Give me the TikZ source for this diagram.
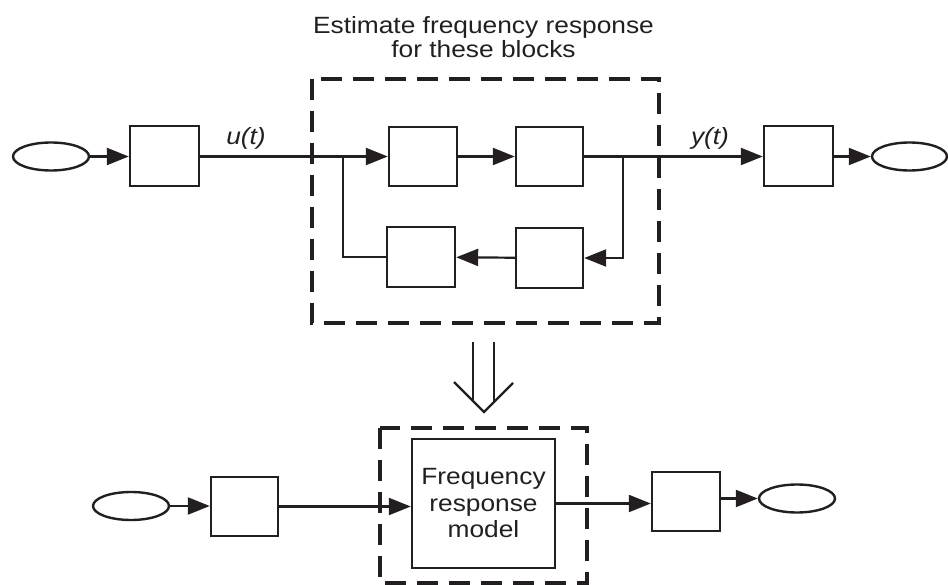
\documentclass[tikz,border=0pt]{standalone}
\usepackage{fontspec}
\setmainfont{Liberation Sans}
\newfontfamily\lab[FakeStretch=1.12]{Liberation Sans}
\usetikzlibrary{arrows.meta,shapes.geometric}
\definecolor{ink}{RGB}{35,31,32}
\tikzset{
  blk/.style={draw=ink, line width=2.4pt, minimum width=68pt, minimum height=59pt, inner sep=0pt},
  src/.style={draw=ink, ellipse, line width=2.4pt, minimum width=76pt, minimum height=28pt, inner sep=0pt},
  conn/.style={ink, line width=2.2pt},
  arr/.style={conn, -{Triangle[length=22pt,width=17pt]}},
  dbox/.style={ink, line width=3.4pt, dash pattern=on 21pt off 11pt},
  lbl/.style={text=ink, font=\lab\fontsize{23.5}{23.5}\selectfont, inner sep=0pt},
}
\begin{document}
\begin{tikzpicture}[x=1pt,y=-1pt]
\useasboundingbox (0,0) rectangle (948,585);
% title
\node[lbl, align=center] (title) at (483.5,37) {Estimate frequency response\\for these blocks};
% top row
\node[src] (e1) at (51,156.5) {};
\node[blk, minimum width=69pt, minimum height=60pt] (b1) at (164.5,156) {};
\node[blk] (bA) at (423,156.5) {};
\node[blk, minimum width=67pt] (bB) at (549.5,156.5) {};
\node[blk, minimum width=67pt, minimum height=60pt] (bC) at (549.5,258) {};
\node[blk, minimum height=60pt] (bD) at (421,257) {};
\node[blk, minimum width=69pt, minimum height=60pt] (bE) at (798.5,156) {};
\node[src, minimum width=75pt] (e2) at (909.5,156.5) {};
\coordinate (jL) at (343,156.5);
\coordinate (jR) at (623,156.5);
\draw[dbox] (312,79) rectangle (659,323);
\draw[arr] (e1) -- (e1 -| b1.west);
\draw[conn] (b1.east |- jL) -- (jL);
\draw[arr] (jL) -- (bA.west);
\draw[arr] (bA) -- (bB);
\draw[arr] (bB.east) -- (bB.east -| bE.west);
\draw[arr] (bE.east |- e2) -- (e2);
\draw[arr] (jR) |- (bC.east);
\draw[arr] (bC) -- (bD);
\draw[conn] (bD.west) -| (jL);
\node[lbl, font=\lab\itshape\fontsize{23.5}{23.5}\selectfont, anchor=base] (ut) at (246,145) {u(t)};
\node[lbl, font=\lab\itshape\fontsize{23.5}{23.5}\selectfont, anchor=base] (yt) at (710,145) {y(t)};
% hollow arrow
\draw[conn] (473,342) -- (473,401);
\draw[conn] (494,342) -- (494,402);
\draw[conn, line join=miter] (454,382) -- (484,412) -- (513,383);
% bottom row
\draw[dbox] (380,428) rectangle (587,583);
\node[src] (e3) at (131,506) {};
\node[blk, minimum width=67pt] (b2) at (244.5,506.5) {};
\node[blk, minimum width=143pt, minimum height=129pt, align=center, text=ink,
      font=\lab\fontsize{23.5}{26.5}\selectfont] (bF) at (483.5,503.5) {Frequency\\response\\model};
\node[blk] (b3) at (686,501.5) {};
\node[src] (e4) at (797,498.5) {};
\draw[arr] (e3) -- (e3 -| b2.west);
\draw[arr] (b2.east) -- (b2.east -| bF.west);
\draw[arr] (bF.east) -- (bF.east -| b3.west);
\draw[arr] (b3.east |- e4) -- (e4);
\end{tikzpicture}
\end{document}
